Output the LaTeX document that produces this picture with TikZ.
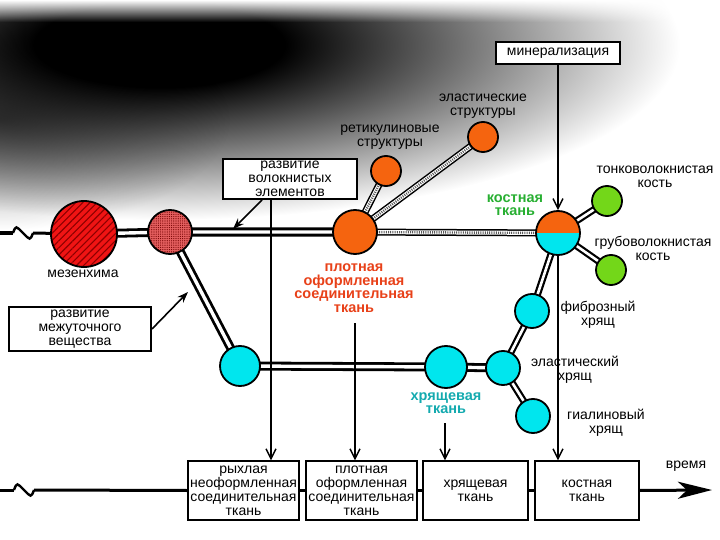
\documentclass[tikz,border=0pt]{standalone}
\usepackage{fontspec}
\setmainfont{Liberation Sans}
\usetikzlibrary{arrows.meta,patterns,patterns.meta,calc,backgrounds,fadings}
\pgfdeclarelayer{bg}
\pgfsetlayers{bg,background,main}
\pgfdeclareradialshading{bgshade}{\pgfpoint{0bp}{0bp}}{color(0bp)=(black); color(6bp)=(black); color(25bp)=(white); color(50bp)=(white)}
\pgfdeclareradialshading{bgshadeb}{\pgfpoint{0bp}{0bp}}{color(0bp)=(black!55); color(25bp)=(white); color(50bp)=(white)}
\definecolor{orn}{RGB}{245,100,15}
\definecolor{cyn}{RGB}{0,230,238}
\definecolor{grn}{RGB}{115,215,25}
\definecolor{mred}{RGB}{240,20,20}
\definecolor{dred}{RGB}{140,0,0}
\definecolor{sredc}{RGB}{228,95,95}
\definecolor{tred}{RGB}{232,65,25}
\definecolor{tgrn}{RGB}{40,175,50}
\definecolor{tteal}{RGB}{20,170,175}
\tikzset{
  every node/.style={inner sep=0pt},
  lbl/.style={font=\fontsize{14}{14}\selectfont, align=center},
  clbl/.style={font=\bfseries\fontsize{14.5}{13.5}\selectfont, align=center},
  tbox/.style={draw, line width=1.3pt, fill=white, font=\fontsize{14}{14}\selectfont, align=center},
  circ/.style={circle, draw=black, line width=1.8pt, inner sep=0pt, minimum size=#1},
  dblmain/.style={draw=white, line width=3.4pt, preaction={draw=black, line width=9pt}},
  dblthin/.style={draw=white, line width=2.6pt, preaction={draw=black, line width=7pt}},
  dotlink/.style={draw=white, line width=4pt, preaction={draw=black, line width=7pt}, postaction={draw=black!65, line width=2.4pt, dash pattern=on 1pt off 1.2pt}},
  vline/.style={line width=2.4pt, -{Straight Barb[length=10pt,width=10pt,line width=1.4pt]}},
  farrow/.style={line width=1.6pt, -{Stealth[length=11pt,width=8pt]}},
  squig/.style={line width=2.4pt},
  tline/.style={line width=3pt},
}
\begin{document}
\begin{tikzpicture}[x=1pt,y=-1pt]
\useasboundingbox (0,0) rectangle (720,540);
\begin{pgfonlayer}{bg}
\begin{scope}
\clip (0,0) rectangle (720,540);
\shade[shading=bgshade] (160,45) ellipse [x radius=520, y radius=175];
\begin{scope}[blend mode=multiply]
\shade[shading=bgshadeb] (0,120) ellipse [x radius=230, y radius=110];
\end{scope}
\fill[white, path fading=south] (0,0) rectangle (720,22);
\end{scope}
\end{pgfonlayer}

% nodes
\node[circ=66pt, preaction={fill=mred}, pattern={Lines[angle=45,distance=5pt,line width=1.1pt]}, pattern color=dred] (mes) at (84,234) {};
\node[circ=44pt, preaction={fill=sredc}, pattern={Dots[distance=2.2pt,radius=0.6pt]}, pattern color=red!45!black] (sred) at (170,232) {};
\node[circ=44pt, fill=orn] (dense) at (355,232) {};
\node[circ=30pt, fill=orn] (ret) at (386,171) {};
\node[circ=30pt, fill=orn] (ela) at (483,137) {};
\node[circ=44pt, path picture={\fill[orn] (path picture bounding box.north west) rectangle (path picture bounding box.east); \fill[cyn] (path picture bounding box.west) rectangle (path picture bounding box.south east);}] (bone) at (558,233) {};
\node[circ=30pt, fill=grn] (green1) at (607,201) {};
\node[circ=30pt, fill=grn] (green2) at (611,270) {};
\node[circ=40pt, fill=cyn] (loose) at (240,366) {};
\node[circ=42pt, fill=cyn] (cart) at (446,367) {};
\node[circ=34pt, fill=cyn] (ecart) at (503,368) {};
\node[circ=34pt, fill=cyn] (fcart) at (532,311) {};
\node[circ=34pt, fill=cyn] (hcart) at (533,416) {};

% boxes
\node[tbox, minimum width=124pt, minimum height=22pt] (minbox) at (558,53) {минерализация};
\node[tbox, minimum width=134pt, minimum height=40pt] (wbox) at (290,179) {развитие\\волокнистых\\элементов};
\node[tbox, minimum width=142pt, minimum height=44pt] (ibox) at (80,329) {развитие\\межуточного\\вещества};
\node[tbox, minimum width=111pt, minimum height=59pt] (b1) at (243.5,490.5) {рыхлая\\неоформленная\\соединительная\\ткань};
\node[tbox, minimum width=111pt, minimum height=59pt] (b2) at (361.5,490.5) {плотная\\оформленная\\соединительная\\ткань};
\node[tbox, minimum width=105pt, minimum height=59pt] (b3) at (475.5,490.5) {хрящевая\\ткань};
\node[tbox, minimum width=104pt, minimum height=59pt] (b4) at (587,490.5) {костная\\ткань};

% connectors behind nodes
\begin{pgfonlayer}{background}
\draw[dblmain] (mes.center) -- (sred.center) -- (dense.center);
\draw[dblmain] (sred.center) -- (loose.center);
\draw[dblmain] (loose.center) -- (cart.center) -- (ecart.center);
\draw[dotlink] (dense.center) -- (bone.center);
\draw[dotlink] (dense.center) -- (ret.center);
\draw[dotlink] (dense.center) -- (ela.center);
\draw[dblthin] (bone.center) -- (green1.center);
\draw[dblthin] (bone.center) -- (green2.center);
\draw[dblthin] (bone.center) -- (fcart.center);
\draw[dblthin] (fcart.center) -- (ecart.center);
\draw[dblthin] (ecart.center) -- (hcart.center);
\end{pgfonlayer}

% left break symbols and lines
\coordinate (L0) at (0,233);
\coordinate (L1) at (13,233);
\coordinate (L2) at (33,233);
\draw[tline] (L0) -- (L1);
\draw[squig] (L1) .. controls +(3,-8) and +(-7,-7) .. (23,233) .. controls +(7,7) and +(-3,8) .. (L2);
\draw[tline] (L2) -- (mes);

\coordinate (B0) at (0,490);
\coordinate (B1) at (14,490);
\coordinate (B2) at (34,490);
\coordinate (tip) at (712,490);
\draw[tline] (B0) -- (B1);
\draw[squig] (B1) .. controls +(3,-8) and +(-7,-7) .. (24,490) .. controls +(7,7) and +(-3,8) .. (B2);
\draw[tline] (B2) -- (b1.west);
\draw[tline] (b1.east) -- (b2.west);
\draw[tline] (b2.east) -- (b3.west);
\draw[tline] (b3.east) -- (b4.west);
\draw[tline, -{Stealth[length=34pt,width=17pt,inset=9pt]}] (b4.east) -- (tip);

% vertical arrows
\coordinate (v1) at (271,199);
\coordinate (v2) at (355,323);
\coordinate (v3) at (445,423);
\draw[vline] (minbox.south) -- (bone.north);
\draw[vline] (v1) -- (v1 |- b1.north);
\draw[vline] (v2) -- (v2 |- b2.north);
\draw[vline] (v3) -- (v3 |- b3.north);
\draw[vline] (bone.south) -- (bone.south |- b4.north);

% box pointers
\coordinate (wa) at (262,200);
\coordinate (wt) at (233,229);
\coordinate (ia) at (152,329);
\coordinate (it) at (188,292);
\draw[farrow] (wa) -- (wt);
\draw[farrow] (ia) -- (it);

% labels
\node[lbl] (lmes) at (83,274) {мезенхима};
\node[lbl] (lela) at (483,106) {эластические\\структуры};
\node[lbl] (lret) at (390,137) {ретикулиновые\\структуры};
\node[lbl] (lthin) at (655,177) {тонковолокнистая\\кость};
\node[lbl] (lcoarse) at (653,248) {грубоволокнистая\\кость};
\node[lbl] (lfib) at (598,315) {фиброзный\\хрящ};
\node[lbl] (lecart) at (575,370) {эластический\\хрящ};
\node[lbl] (lhy) at (606,423) {гиалиновый\\хрящ};
\node[lbl] (ltime) at (686,466) {время};
\node[clbl, text=tgrn] (lbone) at (515,205) {костная\\ткань};
\node[clbl, text=tteal] (lcart) at (446,403) {хрящевая\\ткань};
\node[clbl, text=tred] (ldense) at (354,288) {плотная\\оформленная\\соединительная\\ткань};
\end{tikzpicture}
\end{document}
